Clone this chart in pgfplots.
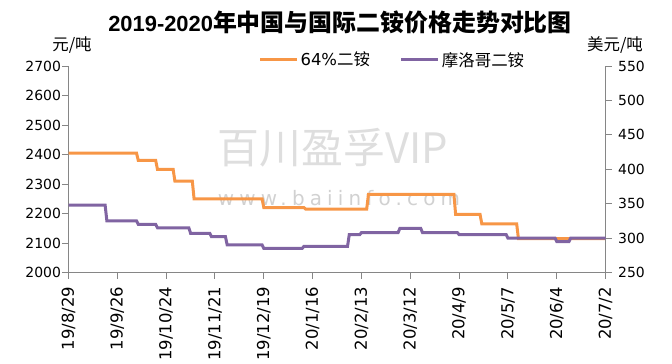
\documentclass[border=0pt]{standalone}
\usepackage{fontspec}
\usepackage{pgfplots}
\pgfplotsset{compat=1.18}
\setmainfont{DejaVu Sans}
\newfontfamily\cjk{Noto Sans CJK SC}
\newfontfamily\arialf{Liberation Sans}
\definecolor{orgc}{HTML}{F79646}
\definecolor{purc}{HTML}{8064A2}
\definecolor{axc}{HTML}{868686}
\pgfplotsset{
  commonstyle/.style={
    at={(68.5bp,90.5bp)}, anchor=south west,
    scale only axis, width=537.1bp, height=206.5bp,
    xmin=0, xmax=308,
    axis line style={axc, line width=1bp},
    tick style={axc, line width=1bp},
    tick align=outside, major tick length=6bp,
    yticklabel style={font=\fontsize{14}{14}\selectfont},
    /pgf/number format/assume math mode=true,
    /pgf/number format/1000 sep={},
  }
}
\begin{document}
\begin{tikzpicture}[x=1bp,y=1bp]
\path[use as bounding box] (0,0) rectangle (672,363);
% watermark
\node[text=black!13, font=\cjk\fontsize{42}{42}\selectfont] at (333,215) {百川盈孚VIP};
\node[text=black!18, font=\addfontfeature{LetterSpace=26}\fontsize{20}{20}\selectfont] at (339,165) {www.baiinfo.com};
% title
\node[font=\bfseries] at (340,341) {{\arialf\bfseries\fontsize{22}{22}\selectfont 2019-2020}{\cjk\bfseries\fontsize{24}{24}\selectfont 年中国与国际二铵价格走势对比图}};
\node[font=\cjk\fontsize{16.5}{16.5}\selectfont] at (72,318) {元/吨};
\node[font=\cjk\fontsize{16.5}{16.5}\selectfont] at (615,318) {美元/吨};

\begin{axis}[commonstyle,
  ymin=2000, ymax=2700,
  xtick={0,28,...,308},
  xticklabels={19/8/29,19/9/26,19/10/24,19/11/21,19/12/19,20/1/16,20/2/13,20/3/12,20/4/9,20/5/7,20/6/4,20/7/2},
  ytick={2000,2100,...,2700},
  axis y line*=left, axis x line*=bottom,
  yticklabel style={xshift=2bp},
  xticklabel style={rotate=90, anchor=east, xshift=-5bp, font=\fontsize{16.5}{16.5}\selectfont},
]
\addplot[orgc, line width=3bp] coordinates {
(0,2405) (39,2405) (40,2380) (50,2380) (51,2350) (60,2350) (61,2310) (71,2310)
(72,2250) (111,2250) (112,2220) (135,2220) (136,2215) (171,2215) (172,2265)
(221,2265) (222,2197) (236,2197) (237,2165) (257,2165) (258,2115) (308,2115)
};
\end{axis}

\begin{axis}[commonstyle,
  ymin=250, ymax=550,
  ytick={250,300,...,550},
  axis y line*=right, axis x line=none,
  yticklabel style={xshift=3bp},
  legend columns=2,
  legend style={draw=none, fill=none, at={(0.603,1.03)}, anchor=center,
    font=\fontsize{16.5}{16.5}\selectfont,
    /tikz/every even column/.append style={column sep=28bp}},
  legend image code/.code={\draw[#1] (0bp,0bp) -- (37bp,0bp);},
]
\addlegendimage{orgc, line width=3bp}
\addlegendentry{64\%{\cjk 二铵}}
\addplot[purc, line width=3bp] coordinates {
(0,348) (21,348) (22,325) (39,325) (40,320) (50,320) (51,315) (69,315)
(70,307) (81,307) (82,302) (90,302) (91,290) (111,290) (112,285) (134,285)
(135,288) (160,288) (161,305) (167,305) (168,308) (189,308) (190,314) (202,314)
(203,308) (223,308) (224,305) (251,305) (252,300) (279,300) (280,295) (287,295)
(288,300) (308,300)
};
\addlegendentry{{\cjk 摩洛哥二铵}}
\end{axis}
\end{tikzpicture}
\end{document}
